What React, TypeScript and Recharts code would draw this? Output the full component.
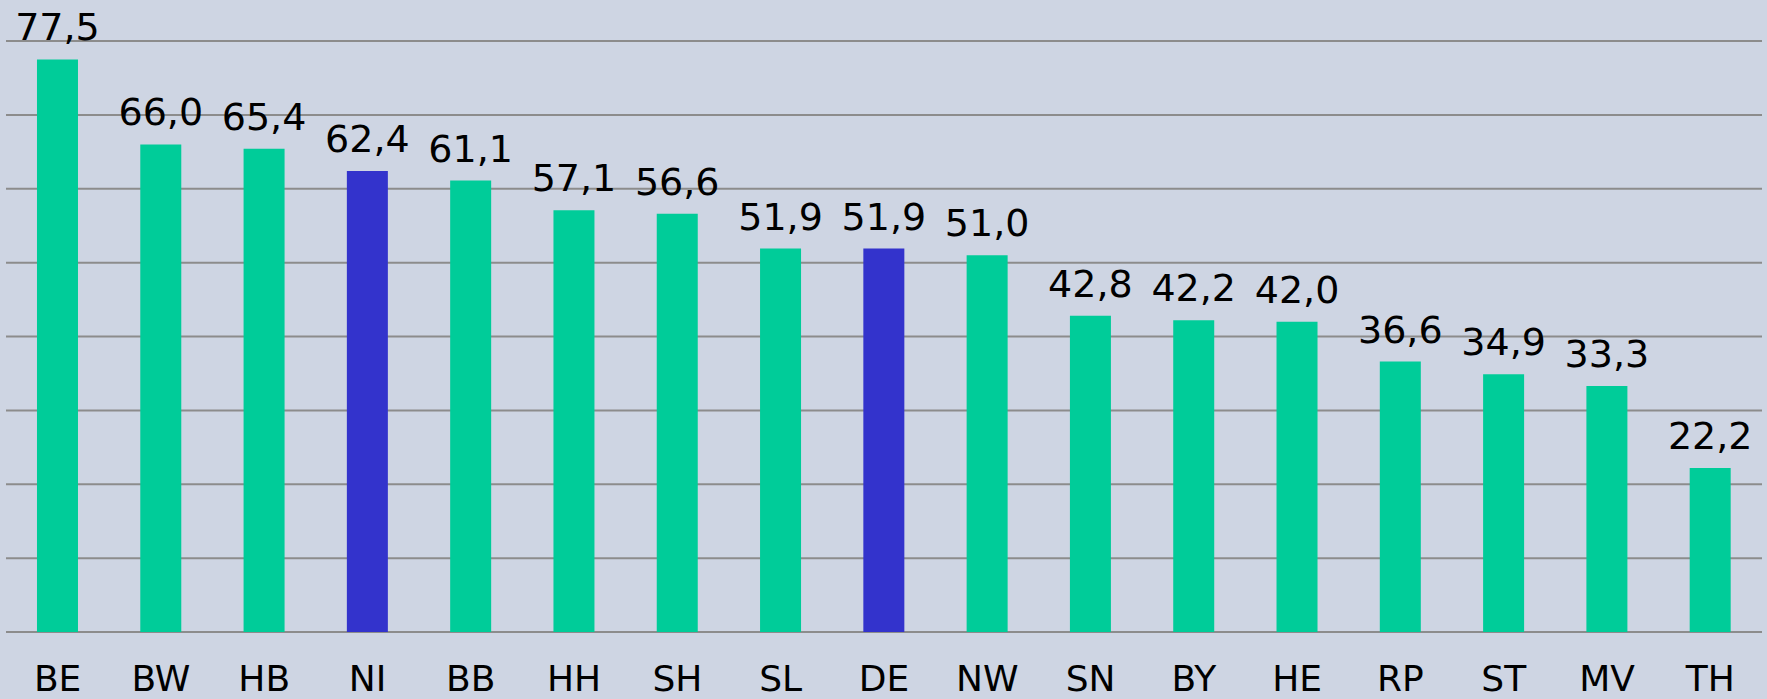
import React from 'react';
import { BarChart, Bar, XAxis, YAxis, CartesianGrid, LabelList, Cell } from 'recharts';

const states = ['BE', 'BW', 'HB', 'NI', 'BB', 'HH', 'SH', 'SL', 'DE', 'NW', 'SN', 'BY', 'HE', 'RP', 'ST', 'MV', 'TH'];
const values = [77.5, 66.0, 65.4, 62.4, 61.1, 57.1, 56.6, 51.9, 51.9, 51.0, 42.8, 42.2, 42.0, 36.6, 34.9, 33.3, 22.2];
const highlighted = ['NI', 'DE'];
const yTicks = [0, 10, 20, 30, 40, 50, 60, 70, 80];

const data = states.map((state, i) => ({ state, value: values[i] }));

const FONT = '"DejaVu Sans", Verdana, sans-serif';

const StateTick = ({ x, y, payload }: any) => (
  <text x={x} y={y + 59} textAnchor="middle" fill="#000" fontSize={36} fontFamily={FONT}>
    {payload.value}
  </text>
);

const App: React.FC = () => {
  // put the chart flush in the top-left corner, over the body margin
  return (
    <div style={{ position: 'fixed', left: 0, top: 0, width: 1767, height: 699, background: '#CED5E3' }}>
      <BarChart
        width={1767}
        height={699}
        data={data}
        margin={{ top: 41, right: 5, left: 6, bottom: 0 }}
        barCategoryGap="30%"
      >
        <CartesianGrid vertical={false} stroke="#8C8C8C" strokeWidth={2} />
        <XAxis
          dataKey="state"
          axisLine={false}
          tickLine={false}
          tickSize={0}
          tickMargin={0}
          height={67}
          interval={0}
          tick={<StateTick />}
        />
        <YAxis hide domain={[0, 80]} ticks={yTicks} />
        <Bar dataKey="value" isAnimationActive={false}>
          {data.map((d) => (
            <Cell key={d.state} fill={highlighted.includes(d.state) ? '#3333CC' : '#00CC99'} />
          ))}
          <LabelList
            dataKey="value"
            position="top"
            offset={19}
            fill="#000"
            fontSize={38}
            fontFamily={FONT}
            formatter={(v: any) => Number(v).toFixed(1).replace('.', ',')}
          />
        </Bar>
      </BarChart>
    </div>
  );
};

export default App;
